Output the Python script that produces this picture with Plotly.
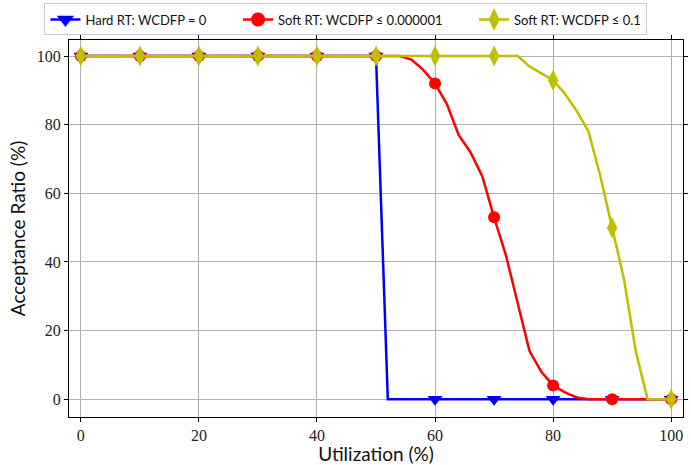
import plotly.graph_objects as go

# Utilization sample points (%)
util = list(range(0, 101, 2))

hard_rt = [100]*26 + [0]*25  # 0..50 -> 100, 52..100 -> 0

soft_1e6 = [100]*28 + [99, 96, 92, 86, 77, 72, 65, 53, 42, 28, 14, 8, 4, 2, 0.5,
                       0, 0, 0, 0, 0, 0, 0, 0]
soft_01 = [100]*38 + [97, 95, 93, 89, 84, 78, 65, 50, 35, 14, 0, 0, 0]

marker_util = list(range(0, 101, 10))

pad = "\u00a0" * 8
names = ["Hard RT: WCDFP = 0" + pad, "Soft RT: WCDFP ≤ 0.000001" + pad, "Soft RT: WCDFP ≤ 0.1"]
colors = ["#0000ff", "#ff0000", "#bfbf00"]
symbols = ["triangle-down", "circle", "diamond-tall"]
msizes = [13, 12, 15]
series = [hard_rt, soft_1e6, soft_01]

fig = go.Figure()
for name, col, sym, ms, ys in zip(names, colors, symbols, msizes, series):
    fig.add_trace(go.Scatter(x=util, y=ys, mode="lines", line=dict(color=col, width=2.5),
                             showlegend=False, hoverinfo="skip"))
    mx = [u for u in util if u in marker_util]
    my = [y for u, y in zip(util, ys) if u in marker_util]
    fig.add_trace(go.Scatter(x=mx, y=my, mode="markers",
                             marker=dict(color=col, symbol=sym, size=ms, line=dict(width=0)),
                             showlegend=False))
    fig.add_trace(go.Scatter(x=[None], y=[None], mode="lines+markers", name=name,
                             line=dict(color=col, width=2.5),
                             marker=dict(color=col, symbol=sym, size=ms + 2, line=dict(width=0))))

tickfont = dict(family="Liberation Serif", size=16, color="#222")
titlefont = dict(family="Lato", size=19, color="#111")
fig.update_layout(
    width=691, height=465,
    margin=dict(l=69, r=3, t=37, b=47),
    plot_bgcolor="white", paper_bgcolor="white",
    showlegend=True,
    legend=dict(orientation="h", x=-0.04, xanchor="left", y=1.012, yanchor="bottom",
                bordercolor="#cccccc", borderwidth=1, bgcolor="white",
                font=dict(family="Lato", size=13, color="#111"),
                tracegroupgap=0),
    xaxis=dict(range=[-2, 102], tickvals=[0, 20, 40, 60, 80, 100], showgrid=True,
               gridcolor="#b0b0b0", gridwidth=1, zeroline=False,
               showline=True, linecolor="black", linewidth=1.2, mirror="ticks",
               ticks="outside", ticklen=4, tickcolor="black", tickfont=tickfont,
               title=dict(text="Utilization (%)", font=titlefont, standoff=4)),
    yaxis=dict(range=[-5.2, 104.7], tickvals=[0, 20, 40, 60, 80, 100], showgrid=True,
               gridcolor="#b0b0b0", gridwidth=1, zeroline=False,
               showline=True, linecolor="black", linewidth=1.2, mirror="ticks",
               ticks="outside", ticklen=4, tickcolor="black", tickfont=tickfont,
               title=dict(text="Acceptance Ratio (%)", font=titlefont, standoff=6)),
)

fig.write_html("out.html")
